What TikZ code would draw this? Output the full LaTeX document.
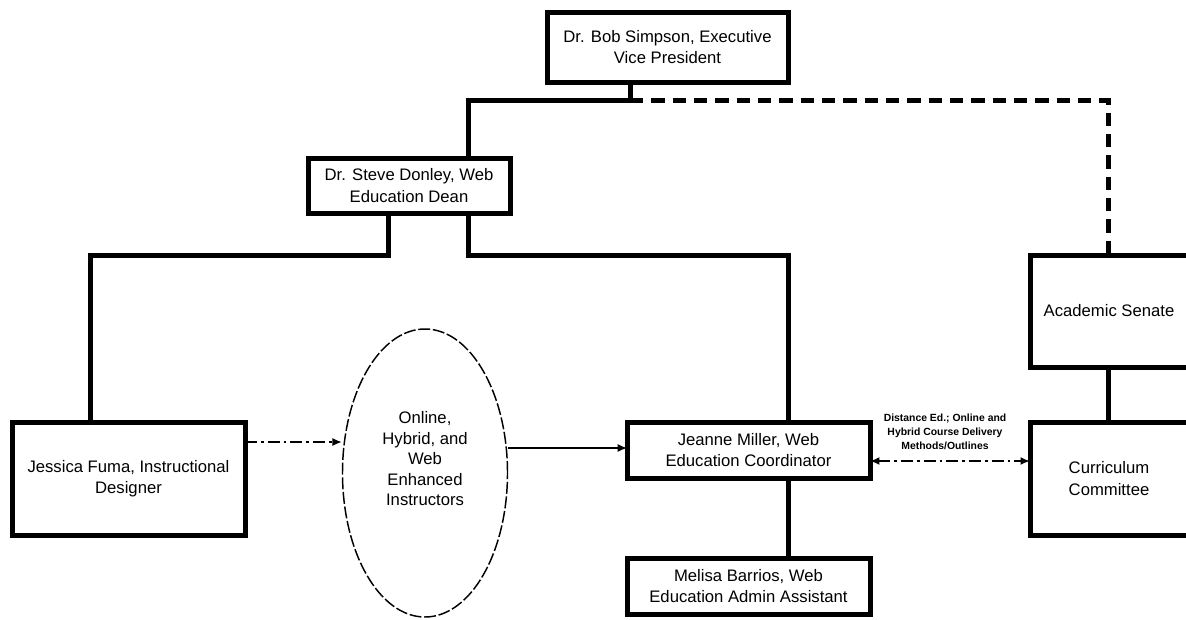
\documentclass[tikz,border=0pt]{standalone}
\usepackage{fontspec}
\setmainfont{Liberation Sans}
\usetikzlibrary{shapes.geometric,arrows.meta}
\begin{document}
\begin{tikzpicture}[x=0.75pt,y=-0.75pt,
  box/.style={draw,line width=3.75pt,rectangle,inner sep=0pt,outer sep=0pt,align=center,
    font=\fontsize{12.5}{16}\selectfont},
  thick line/.style={line width=3.75pt,line cap=rect},
  dashline/.style={line width=3.75pt,dash pattern=on 10pt off 6pt},
  tip/.style={-{Latex[length=7pt,width=6pt]}}]
\clip (0,0) rectangle (1186,619);
\fill[white] (0,0) rectangle (1186,619);

\node[box,minimum width=180.75pt,minimum height=52.5pt] (top) at (667.5,47) {Dr. Bob Simpson, Executive\\Vice President};
\node[box,minimum width=151.5pt,minimum height=41.25pt] (dean) at (409,185.5) {Dr. Steve Donley, Web\\Education Dean};
\node[box,minimum width=174.75pt,minimum height=84.75pt] (jess) at (128.5,478.5) {Jessica Fuma, Instructional\\Designer};
\node[draw,ellipse,line width=1.1pt,dash pattern=on 9pt off 2pt,minimum width=123.75pt,minimum height=216pt,inner sep=0pt,
  align=center,font=\fontsize{12.5}{15.4}\selectfont] (inst) at (425,473) {Online,\\Hybrid, and\\Web\\Enhanced\\Instructors\\[6pt]};
\node[box,minimum width=182.25pt,minimum height=42pt] (jean) at (748.5,450) {Jeanne Miller, Web\\Education Coordinator};
\node[box,minimum width=182.25pt,minimum height=42pt] (mel) at (748.5,586) {Melisa Barrios, Web\\Education Admin Assistant};
\node[box,minimum width=118.5pt,minimum height=84pt] (sen) at (1109,311) {Academic Senate};
\node[box,minimum width=118.5pt,minimum height=84.75pt] (cur) at (1109,478.5) {Curriculum\\Committee};

\coordinate (c1) at (630,100);
\coordinate (c2) at (468,100);
\coordinate (c3) at (1108,100);
\coordinate (d1) at (388,255);
\coordinate (d2) at (90,255);
\coordinate (d3) at (468,255);
\coordinate (d4) at (788,255);

\draw[thick line] (top.south -| c1) -- (c1) -- (c2) -- (dean.north -| c2);
\draw[dashline] (c1) -- (c3) -- (sen.north -| c3);
\draw[thick line] (dean.south -| d1) -- (d1) -- (d2) -- (jess.north -| d2);
\draw[thick line] (dean.south -| d3) -- (d3) -- (d4) -- (jean.north -| d4);
\draw[thick line] (jean.south -| d4) -- (mel.north -| d4);
\draw[thick line] (sen.south -| c3) -- (cur.north -| c3);

\coordinate (a1) at (246,442);
\draw[tip,line width=1.1pt,dash pattern=on 9pt off 3pt on 2pt off 3pt] (jess.east |- a1) -- (inst.west |- a1);
\coordinate (a2) at (508,448);
\draw[tip,line width=0.9pt] (inst.east |- a2) -- (jean.west |- a2);
\coordinate (a3) at (870,461);
\draw[{Latex[length=7pt,width=6pt]}-{Latex[length=7pt,width=6pt]},line width=1.5pt,dash pattern=on 9pt off 3pt on 2pt off 3pt]
  (jean.east |- a3) -- (cur.west |- a3);
\node[font=\bfseries\fontsize{7.8}{10.5}\selectfont,align=center,inner sep=0pt] (lab) at (945,432)
  {Distance Ed.; Online and\\Hybrid Course Delivery\\Methods/Outlines};
\end{tikzpicture}
\end{document}
